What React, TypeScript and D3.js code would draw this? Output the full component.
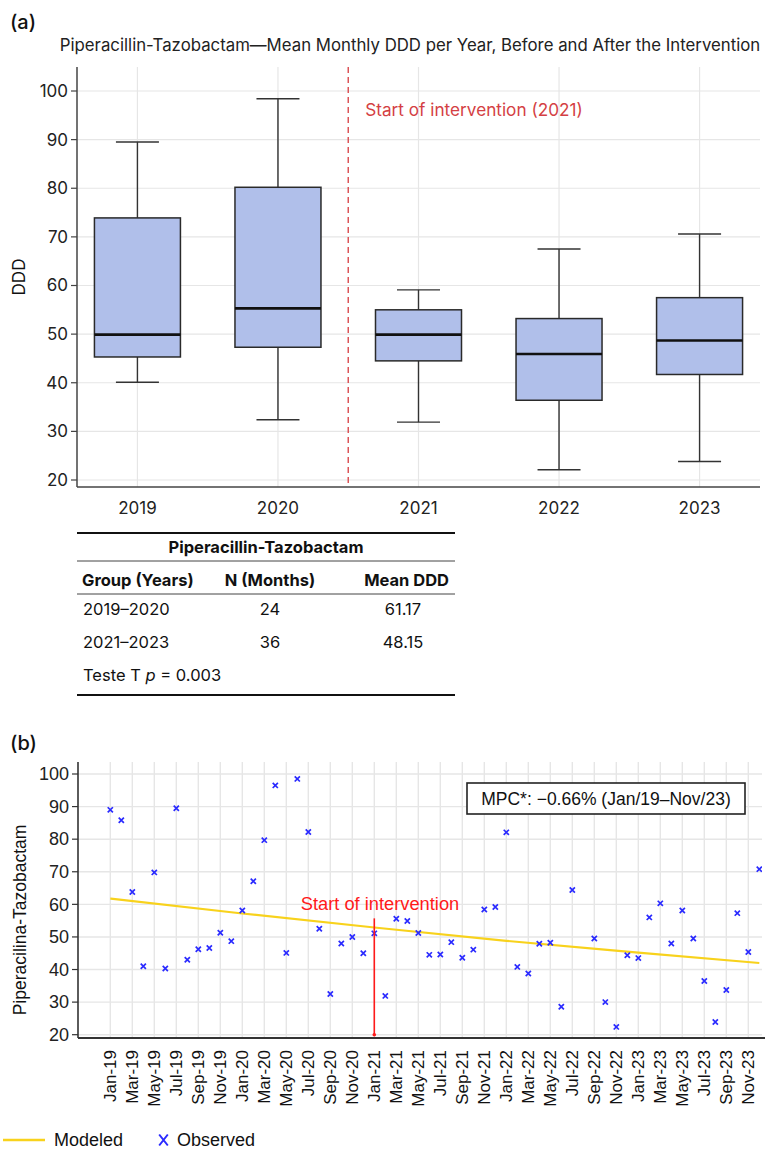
import React from 'react';
import * as d3 from 'd3';

// Panel (a): yearly box statistics of monthly DDD
const years = ['2019', '2020', '2021', '2022', '2023'];
const whiskerLow = [40.1, 32.4, 31.9, 22.1, 23.8];
const q1 = [45.3, 47.3, 44.5, 36.4, 41.7];
const median = [49.9, 55.3, 49.9, 45.9, 48.7];
const q3 = [73.9, 80.2, 55.0, 53.2, 57.5];
const whiskerHigh = [89.5, 98.4, 59.1, 67.5, 70.6];

// Summary table under panel (a)
const groupLabels = ['2019–2020', '2021–2023'];
const groupMonths = [24, 36];
const groupMeans = [61.17, 48.15];
const tTestP = '0.003';

// Panel (b): monthly series
const months = [
  'Jan-19', 'Feb-19', 'Mar-19', 'Apr-19', 'May-19', 'Jun-19', 'Jul-19', 'Aug-19', 'Sep-19', 'Oct-19', 'Nov-19', 'Dec-19',
  'Jan-20', 'Feb-20', 'Mar-20', 'Apr-20', 'May-20', 'Jun-20', 'Jul-20', 'Aug-20', 'Sep-20', 'Oct-20', 'Nov-20', 'Dec-20',
  'Jan-21', 'Feb-21', 'Mar-21', 'Apr-21', 'May-21', 'Jun-21', 'Jul-21', 'Aug-21', 'Sep-21', 'Oct-21', 'Nov-21', 'Dec-21',
  'Jan-22', 'Feb-22', 'Mar-22', 'Apr-22', 'May-22', 'Jun-22', 'Jul-22', 'Aug-22', 'Sep-22', 'Oct-22', 'Nov-22', 'Dec-22',
  'Jan-23', 'Feb-23', 'Mar-23', 'Apr-23', 'May-23', 'Jun-23', 'Jul-23', 'Aug-23', 'Sep-23', 'Oct-23', 'Nov-23', 'Dec-23',
];
const observed: (number | null)[] = [
  89.0, 85.8, 63.8, 41.0, 69.8, 40.3, 89.5, 43.0, 46.2, 46.6, 51.3, 48.7,
  58.1, 67.1, 79.7, 96.5, 45.1, 98.5, 82.2, 52.5, 32.5, 48.0, 50.0, 45.0,
  51.1, 31.9, 55.6, 54.9, 51.2, 44.5, 44.6, 48.4, 43.6, 46.1, 58.4, 59.2,
  82.1, 40.8, 38.8, 47.9, 48.2, 28.6, 64.4, null, 49.5, 30.0, 22.4, 44.4,
  43.5, 56.0, 60.3, 48.0, 58.1, 49.5, 36.5, 23.9, 33.7, 57.3, 45.4, 70.8,
];
const modeledMonths = ['Jan-19', 'Jan-20', 'Jan-21', 'Jan-22', 'Jan-23', 'Dec-23'];
const modeledValues = [61.8, 57.2, 52.9, 48.8, 45.2, 42.0];
const interventionMonth = 'Jan-21';
const interventionTop = 55.7;
const mpcLabel = 'MPC*: −0.66% (Jan/19–Nov/23)';

const W = 780;
const H = 1159;
const sansA = 'Inter, "Noto Sans", sans-serif';
const sansB = '"Liberation Sans", Arial, sans-serif';
const grid = '#e6e6e6';

function BoxPanel() {
  const left = 77;
  const right = 760;
  const top = 67;
  const bottom = 487;
  const x = d3.scalePoint<string>().domain(years).range([left, right]).padding(0.43);
  const y = d3.scaleLinear().domain([20, 100]).range([480, 91]);
  const ticks = y.ticks(8);
  const boxW = 86;
  const capW = 43;
  const cut = (x('2020')! + x('2021')!) / 2;

  return (
    <g>
      <text x={10} y={29} fontFamily={sansA} fontSize={20} fontWeight={500} fill="#111">(a)</text>
      <text x={410} y={51} textAnchor="middle" fontFamily={sansA} fontSize={16.8} fill="#222">
        Piperacillin-Tazobactam—Mean Monthly DDD per Year, Before and After the Intervention
      </text>
      {ticks.map((t) => (
        <line key={'gy' + t} x1={left} x2={right} y1={y(t)} y2={y(t)} stroke={grid} strokeWidth={1.2} />
      ))}
      {years.map((yr) => (
        <line key={'gx' + yr} x1={x(yr)} x2={x(yr)} y1={top} y2={bottom} stroke={grid} strokeWidth={1.2} />
      ))}
      <line x1={cut} x2={cut} y1={top} y2={bottom} stroke="#d9484d" strokeWidth={1.4} strokeDasharray="6,4" />
      <text x={cut + 17} y={116} fontFamily={sansA} fontSize={17.2} fill="#d43f44">Start of intervention (2021)</text>
      {years.map((yr, i) => {
        const cx = x(yr)!;
        return (
          <g key={'box' + yr}>
            <line x1={cx} x2={cx} y1={y(whiskerHigh[i])} y2={y(q3[i])} stroke="#333" strokeWidth={1.4} />
            <line x1={cx} x2={cx} y1={y(q1[i])} y2={y(whiskerLow[i])} stroke="#333" strokeWidth={1.4} />
            <line x1={cx - capW / 2} x2={cx + capW / 2} y1={y(whiskerHigh[i])} y2={y(whiskerHigh[i])} stroke="#333" strokeWidth={1.4} />
            <line x1={cx - capW / 2} x2={cx + capW / 2} y1={y(whiskerLow[i])} y2={y(whiskerLow[i])} stroke="#333" strokeWidth={1.4} />
            <rect x={cx - boxW / 2} y={y(q3[i])} width={boxW} height={y(q1[i]) - y(q3[i])} fill="#b0bfea" stroke="#2a2a2a" strokeWidth={1.5} />
            <line x1={cx - boxW / 2} x2={cx + boxW / 2} y1={y(median[i])} y2={y(median[i])} stroke="#111" strokeWidth={2.6} />
          </g>
        );
      })}
      <line x1={left} x2={left} y1={top} y2={bottom} stroke="#444" strokeWidth={1.5} />
      <line x1={left} x2={right} y1={bottom} y2={bottom} stroke="#444" strokeWidth={1.5} />
      {ticks.map((t) => (
        <g key={'ty' + t}>
          <line x1={left - 6} x2={left} y1={y(t)} y2={y(t)} stroke="#444" strokeWidth={1.2} />
          <text x={left - 9} y={y(t)} dy="0.35em" textAnchor="end" fontFamily={sansA} fontSize={17} fill="#222">{t}</text>
        </g>
      ))}
      {years.map((yr) => (
        <text key={'tx' + yr} x={x(yr)} y={514} textAnchor="middle" fontFamily={sansA} fontSize={17} fill="#222">{yr}</text>
      ))}
      <text transform={`translate(19,${(top + bottom) / 2}) rotate(-90)`} textAnchor="middle" dy="0.35em" fontFamily={sansA} fontSize={17} fill="#111">DDD</text>
    </g>
  );
}

function SummaryTable() {
  const l = 77;
  const r = 455;
  const f = { fontFamily: sansA, fontSize: 16.5, fill: '#111' };
  return (
    <g>
      <line x1={l} x2={r} y1={533} y2={533} stroke="#111" strokeWidth={2.2} />
      <text x={266} y={553} textAnchor="middle" fontWeight={700} {...f}>Piperacillin-Tazobactam</text>
      <line x1={l} x2={r} y1={561} y2={561} stroke="#444" strokeWidth={1} />
      <text x={82} y={586} fontWeight={700} {...f}>Group (Years)</text>
      <text x={270} y={586} textAnchor="middle" fontWeight={700} {...f}>N (Months)</text>
      <text x={449} y={586} textAnchor="end" fontWeight={700} {...f}>Mean DDD</text>
      <line x1={l} x2={r} y1={594} y2={594} stroke="#444" strokeWidth={1} />
      {groupLabels.map((g, i) => (
        <g key={g}>
          <text x={83} y={615 + i * 33} {...f}>{g}</text>
          <text x={270} y={615 + i * 33} textAnchor="middle" {...f}>{groupMonths[i]}</text>
          <text x={403} y={615 + i * 33} textAnchor="middle" {...f}>{groupMeans[i].toFixed(2)}</text>
        </g>
      ))}
      <text x={83} y={681} {...f}>
        Teste T <tspan fontStyle="italic">p</tspan> = {tTestP}
      </text>
      <line x1={l} x2={r} y1={695} y2={695} stroke="#111" strokeWidth={2.2} />
    </g>
  );
}

function TrendPanel() {
  const left = 78;
  const right = 762;
  const top = 762;
  const bottom = 1038;
  const x = d3.scalePoint<string>().domain(months).range([110.3, 759.3]);
  const y = d3.scaleLinear().domain([20, 100]).range([1034.7, 774]);
  const ticks = y.ticks(8);
  const tickMonths = months.filter((_, i) => i % 2 === 0);
  const line = d3
    .line<number>()
    .x((_, i) => x(modeledMonths[i])!)
    .y((d) => y(d))
    .curve(d3.curveMonotoneX);
  const ix = x(interventionMonth)!;
  const cross = 'M-2.6,-2.6L2.6,2.6M-2.6,2.6L2.6,-2.6';

  return (
    <g>
      <defs>
        <clipPath id="trendClip">
          <rect x={left} y={top} width={right - left} height={bottom - top} />
        </clipPath>
      </defs>
      <text x={10} y={750} fontFamily={sansA} fontSize={20} fontWeight={500} fill="#111">(b)</text>
      {ticks.map((t) => (
        <line key={'gy' + t} x1={left} x2={right} y1={y(t)} y2={y(t)} stroke={grid} strokeWidth={1.4} />
      ))}
      {tickMonths.map((m) => (
        <line key={'gx' + m} x1={x(m)} x2={x(m)} y1={top} y2={bottom} stroke={grid} strokeWidth={1.4} />
      ))}
      <path d={line(modeledValues) || ''} fill="none" stroke="#f8d21c" strokeWidth={2.2} />
      <g clipPath="url(#trendClip)">
        {observed.map((v, i) =>
          v == null ? null : (
            <path key={'o' + i} transform={`translate(${x(months[i])},${y(v)})`} d={cross} stroke="#2a2aff" strokeWidth={1.7} fill="none" />
          )
        )}
      </g>
      <line x1={ix} x2={ix} y1={y(interventionTop)} y2={y(20)} stroke="#ff1a1a" strokeWidth={1.6} />
      <circle cx={ix} cy={y(20)} r={1.8} fill="#ff1a1a" />
      <text x={380} y={910} textAnchor="middle" fontFamily={sansB} fontSize={18.3} fill="#ff1a1a">Start of intervention</text>
      <rect x={467} y={783} width={278} height={31} fill="#fff" stroke="#222" strokeWidth={1.6} />
      <text x={606} y={805} textAnchor="middle" fontFamily={sansB} fontSize={17.5} fill="#111">{mpcLabel}</text>
      <line x1={left} x2={left} y1={top} y2={bottom} stroke="#333" strokeWidth={1.6} />
      <line x1={left} x2={765} y1={bottom} y2={bottom} stroke="#333" strokeWidth={1.8} />
      {ticks.map((t) => (
        <g key={'ty' + t}>
          <line x1={left - 6} x2={left} y1={y(t)} y2={y(t)} stroke="#333" strokeWidth={1.2} />
          <text x={left - 9} y={y(t)} dy="0.35em" textAnchor="end" fontFamily={sansB} fontSize={18} fill="#222">{t}</text>
        </g>
      ))}
      {tickMonths.map((m) => (
        <text key={'tx' + m} transform={`translate(${x(m)},1050) rotate(-90)`} dy="0.35em" textAnchor="end" fontFamily={sansB} fontSize={17} fill="#111">{m}</text>
      ))}
      <text transform={`translate(20,${(top + bottom) / 2 + 20}) rotate(-90)`} dy="0.35em" textAnchor="middle" fontFamily={sansB} fontSize={17.5} fill="#111">Piperacilina-Tazobactam</text>
      <line x1={3} x2={45} y1={1140} y2={1140} stroke="#f8d21c" strokeWidth={2.5} />
      <text x={54} y={1140} dy="0.35em" fontFamily={sansB} fontSize={18} fill="#111">Modeled</text>
      <path transform="translate(163.5,1140)" d="M-4.3,-5.5L4.3,5.5M-4.3,5.5L4.3,-5.5" stroke="#2a2aff" strokeWidth={2} fill="none" />
      <text x={177} y={1140} dy="0.35em" fontFamily={sansB} fontSize={18} fill="#111">Observed</text>
    </g>
  );
}

export default function App() {
  return (
    <svg width={W} height={H} viewBox={`0 0 ${W} ${H}`} style={{ position: 'absolute', left: 0, top: 0, background: '#fff' }}>
      <rect width={W} height={H} fill="#fff" />
      <BoxPanel />
      <SummaryTable />
      <TrendPanel />
    </svg>
  );
}
